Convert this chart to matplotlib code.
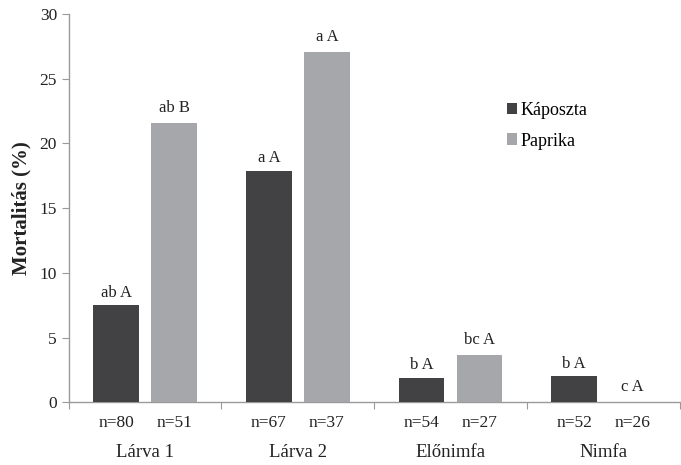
import matplotlib
matplotlib.use("Agg")
import matplotlib.pyplot as plt
import matplotlib.transforms as mtransforms
import numpy as np

categories = ["Lárva 1", "Lárva 2", "Előnimfa", "Nimfa"]
series_names = ["Káposzta", "Paprika"]
kaposzta = [7.5, 17.9, 1.9, 2.0]
paprika = [21.6, 27.05, 3.65, 0.0]
kaposzta_letters = ["ab A", "a A", "b A", "b A"]
paprika_letters = ["ab B", "a A", "bc A", "c A"]
kaposzta_n = ["n=80", "n=67", "n=54", "n=52"]
paprika_n = ["n=51", "n=37", "n=27", "n=26"]

plt.rcParams['font.family'] = ['Liberation Serif', 'DejaVu Serif']

dark = "#424244"
light = "#a6a7ab"
spine = "#9a9a9a"
txt = "#222222"

fig = plt.figure(figsize=(6.81, 4.65), dpi=100)
ax = fig.add_axes([0.101, 0.135, 0.897, 0.835])

x = np.arange(len(categories))
w = 0.30
off = 0.19
ax.bar(x - off, kaposzta, w, color=dark, label=series_names[0], zorder=3)
ax.bar(x + off, paprika, w, color=light, label=series_names[1], zorder=3)

for xi, v, t in zip(x - off, kaposzta, kaposzta_letters):
    ax.annotate(t, (xi, v), xytext=(0, 3), textcoords="offset points",
                ha="center", va="bottom", fontsize=12, color=txt)
for xi, v, t in zip(x + off, paprika, paprika_letters):
    ax.annotate(t, (xi, v), xytext=(0, 5), textcoords="offset points",
                ha="center", va="bottom", fontsize=12, color=txt)

trans = mtransforms.blended_transform_factory(ax.transData, ax.transAxes)
for xi, t in zip(x - off, kaposzta_n):
    ax.annotate(t, (xi, 0), xycoords=trans, xytext=(0, -9), textcoords="offset points",
                ha="center", va="top", fontsize=12.5, color=txt)
for xi, t in zip(x + off, paprika_n):
    ax.annotate(t, (xi, 0), xycoords=trans, xytext=(0, -9), textcoords="offset points",
                ha="center", va="top", fontsize=12.5, color=txt)
for xi, t in zip(x, categories):
    ax.annotate(t, (xi, 0), xycoords=trans, xytext=(0, -30), textcoords="offset points",
                ha="center", va="top", fontsize=13.5, color=txt)

ax.set_xlim(-0.5, 3.5)
ax.set_ylim(0, 30)
ax.set_yticks(np.arange(0, 31, 5))
ax.set_xticks(np.arange(-0.5, 3.6, 1.0))
ax.set_xticklabels([])
ax.tick_params(axis="y", labelsize=12.5, colors=spine, labelcolor=txt, length=5, direction="out")
ax.tick_params(axis="x", colors=spine, length=5, direction="out")
for s in ["top", "right"]:
    ax.spines[s].set_visible(False)
for s in ["left", "bottom"]:
    ax.spines[s].set_color(spine)
    ax.spines[s].set_linewidth(1.0)

ax.set_ylabel("Mortalitás (%)", fontsize=15, fontweight="bold", color=txt, labelpad=6)

ax.legend(loc="upper left", bbox_to_anchor=(0.69, 0.815), frameon=False,
          fontsize=13, handlelength=0.6, handleheight=0.6, handletextpad=0.15,
          labelspacing=0.75)

fig.savefig("out.png", dpi=100)
